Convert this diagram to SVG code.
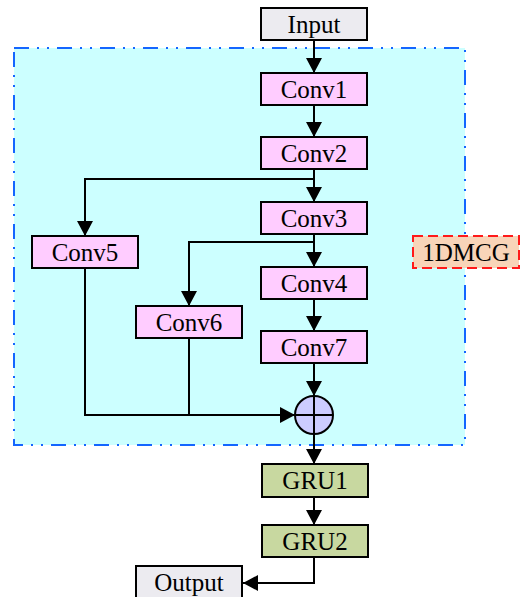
<svg xmlns="http://www.w3.org/2000/svg" width="525" height="597" viewBox="0 0 525 597">
  <style>
    .box { stroke: #000; stroke-width: 2; }
    .io { fill: #ecebf0; }
    .conv { fill: #ffccff; }
    .gru { fill: #c8d8a0; }
    .lbl { font-family: "Liberation Serif", "Times New Roman", serif; font-size: 25px; fill: #000; text-anchor: middle; }
    .wire { fill: none; stroke: #000; stroke-width: 2; }
    .arr { marker-end: url(#head); }
  </style>
  <defs>
    <marker id="head" markerUnits="userSpaceOnUse" markerWidth="16" markerHeight="16" viewBox="0 0 16 16" refX="15" refY="8" orient="auto">
      <path d="M0,0 L15,8 L0,16 z" fill="#000"/>
    </marker>
  </defs>

  <rect width="525" height="597" fill="#fff"/>

  <!-- 1DMCG block container -->
  <g id="block">
    <rect x="14" y="48" width="451" height="397" fill="#ccffff" stroke="#1466ff" stroke-width="2" stroke-dasharray="15 8 2 8 2 8"/>
  </g>

  <g id="tag">
    <rect x="413" y="236" width="106" height="32" fill="#f8d4b8" stroke="#ff1a1a" stroke-width="2" stroke-dasharray="10 5"/>
    <text class="lbl" x="466" y="261">1DMCG</text>
  </g>

  <!-- connectors -->
  <g id="connectors">
    <path class="wire arr" d="M314,41 V73"/>
    <path class="wire arr" d="M314,105 V137"/>
    <path class="wire arr" d="M314,169 V202"/>
    <path class="wire arr" d="M314,179 H85 V236"/>
    <path class="wire arr" d="M314,234 V267"/>
    <path class="wire arr" d="M314,242 H189 V306"/>
    <path class="wire arr" d="M314,299 V331"/>
    <path class="wire arr" d="M314,363 V396"/>
    <path class="wire arr" d="M85,269 V415 H295"/>
    <path class="wire" d="M189,338 V415"/>
    <path class="wire arr" d="M314,434 V464"/>
    <path class="wire arr" d="M314,497 V525"/>
    <path class="wire arr" d="M314,557 V583 H243"/>
  </g>

  <g id="input">
    <rect class="box io" x="261" y="8" width="106" height="32"/>
    <text class="lbl" x="314" y="33">Input</text>
  </g>
  <g id="conv1">
    <rect class="box conv" x="261" y="73" width="106" height="32"/>
    <text class="lbl" x="314" y="98">Conv1</text>
  </g>
  <g id="conv2">
    <rect class="box conv" x="261" y="137" width="106" height="32"/>
    <text class="lbl" x="314" y="162">Conv2</text>
  </g>
  <g id="conv3">
    <rect class="box conv" x="261" y="202" width="106" height="32"/>
    <text class="lbl" x="314" y="227">Conv3</text>
  </g>
  <g id="conv4">
    <rect class="box conv" x="261" y="267" width="106" height="32"/>
    <text class="lbl" x="314" y="292">Conv4</text>
  </g>
  <g id="conv7">
    <rect class="box conv" x="261" y="331" width="106" height="32"/>
    <text class="lbl" x="314" y="356">Conv7</text>
  </g>
  <g id="conv5">
    <rect class="box conv" x="32" y="236" width="106" height="32"/>
    <text class="lbl" x="85" y="261">Conv5</text>
  </g>
  <g id="conv6">
    <rect class="box conv" x="136" y="306" width="106" height="32"/>
    <text class="lbl" x="189" y="331">Conv6</text>
  </g>
  <g id="sum">
    <circle cx="314" cy="415" r="19" fill="#ccccff" stroke="#000" stroke-width="2"/>
    <path d="M295,415 H333 M314,396 V434" stroke="#000" stroke-width="2"/>
  </g>
  <g id="gru1">
    <rect class="box gru" x="262" y="464" width="106" height="33"/>
    <text class="lbl" x="315" y="489">GRU1</text>
  </g>
  <g id="gru2">
    <rect class="box gru" x="262" y="525" width="106" height="32"/>
    <text class="lbl" x="315" y="550">GRU2</text>
  </g>
  <g id="output">
    <rect class="box io" x="136" y="566" width="106" height="33"/>
    <text class="lbl" x="189" y="591">Output</text>
  </g>
</svg>
